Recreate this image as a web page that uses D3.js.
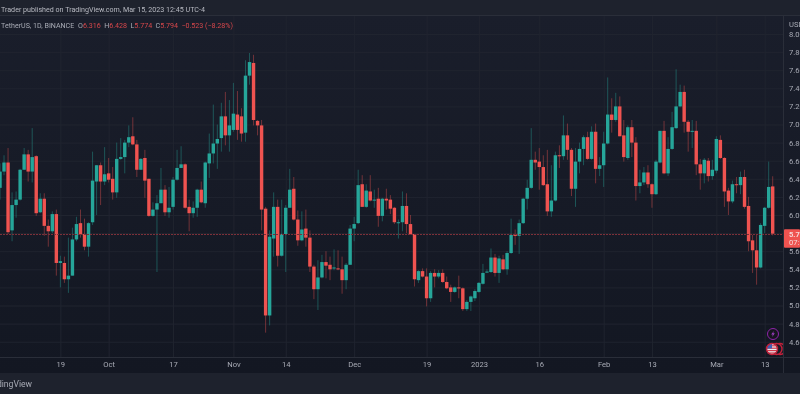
<!DOCTYPE html>
<html>
<head>
<meta charset="utf-8">
<script src="https://cdn.jsdelivr.net/npm/d3@7"></script>
<style>
  html, body { margin: 0; padding: 0; background: #131722; overflow: hidden; }
  svg { display: block; filter: blur(0.4px); }
  text { font-family: Roboto, sans-serif; }
</style>
</head>
<body>
<svg id="drawing_region"></svg>
<script>
// daily candles, first one is 2022-09-04
const first_day = new Date(Date.UTC(2022, 8, 4));

const open_values = [
  6.30,6.48,6.58,5.83,6.11,6.17,6.50,6.67,6.48,6.65,
  6.03,6.18,5.88,5.82,6.01,5.47,5.47,5.29,5.33,5.73,
  5.91,5.79,5.65,5.92,6.37,6.55,6.37,6.46,6.40,6.25,
  6.62,6.64,6.80,6.87,6.78,6.50,6.63,6.40,5.99,6.06,
  6.13,6.28,6.03,6.09,6.39,6.52,6.56,6.09,6.02,6.08,
  6.28,6.13,6.57,6.68,6.79,6.85,7.09,6.88,6.94,7.11,
  7.09,6.91,7.54,7.68,7.04,6.99,6.07,4.89,5.74,6.09,
  5.55,5.79,6.08,6.29,5.95,5.72,5.85,5.75,5.43,5.18,
  5.31,5.48,5.45,5.41,5.41,5.40,5.28,5.45,5.85,5.91,
  6.34,6.09,6.26,6.16,6.18,5.99,6.18,6.17,6.08,5.91,
  5.92,6.10,5.90,5.79,5.28,5.38,5.32,5.08,5.36,5.32,
  5.36,5.26,5.20,5.15,5.20,5.19,4.96,5.04,5.08,5.15,
  5.24,5.365,5.37,5.53,5.36,5.51,5.40,5.58,5.78,5.77,
  5.91,6.18,6.30,6.61,6.59,6.53,6.34,6.04,6.16,6.66,
  6.65,6.88,6.72,6.29,6.59,6.73,6.86,6.62,6.92,6.51,
  6.55,6.79,7.11,7.05,7.20,6.88,6.63,6.97,6.80,6.32,
  6.36,6.47,6.34,6.23,6.58,6.93,6.46,6.73,6.96,7.20,
  7.36,7.03,6.92,6.93,6.56,6.46,6.60,6.43,6.49,6.83,
  6.63,6.27,6.15,6.34,6.33,6.42,6.10,5.72,5.61,5.42,
  5.88,6.08,6.316
];
const high_values = [
  6.57,6.66,6.74,6.25,6.26,6.51,6.74,6.72,6.96,6.66,
  6.24,6.24,5.95,6.04,6.06,5.55,5.54,5.75,5.86,5.98,
  6.06,5.96,5.92,6.70,6.55,6.58,6.75,6.63,6.53,6.80,
  6.85,6.83,6.99,7.08,6.83,6.63,6.72,6.40,6.14,6.22,
  6.52,6.33,6.31,6.42,6.72,6.76,6.57,6.17,6.15,6.29,
  6.37,6.59,6.90,7.22,7.00,7.24,7.36,7.27,7.46,7.37,
  7.18,7.71,7.79,7.77,7.05,7.05,6.09,5.83,6.25,6.17,
  6.17,6.11,6.51,6.42,6.05,6.04,6.06,5.83,5.45,5.50,
  5.56,5.60,5.54,5.62,5.61,5.54,5.47,5.89,5.98,6.50,
  6.44,6.34,6.44,6.28,6.30,6.19,6.29,6.22,6.09,5.95,
  6.26,6.24,6.00,5.79,5.39,5.41,5.41,5.38,5.40,5.39,
  5.40,5.32,5.23,5.21,5.33,5.20,5.06,5.11,5.18,5.26,
  5.46,5.40,5.63,5.57,5.55,5.56,5.60,5.96,5.84,5.95,
  6.19,6.39,6.96,6.70,6.74,6.66,6.72,6.55,6.70,6.77,
  7.10,7.01,6.74,6.74,6.80,6.88,6.92,6.98,7.01,6.64,
  6.92,7.52,7.29,7.35,7.31,7.05,6.99,7.05,6.86,6.50,
  6.53,6.55,6.35,6.61,6.93,7.04,6.86,7.14,7.61,7.44,
  7.43,7.05,7.05,7.04,6.62,6.63,6.63,6.61,6.87,6.88,
  6.64,6.30,6.38,6.42,6.48,6.50,6.20,5.78,5.78,5.91,
  6.09,6.59,6.428
];
const low_values = [
  6.17,6.44,5.79,5.71,5.97,6.16,6.50,6.37,6.36,5.99,
  6.02,5.77,5.65,5.80,5.33,5.20,5.25,5.14,5.33,5.71,
  5.75,5.61,5.54,5.89,6.00,6.11,6.33,6.36,6.17,6.19,
  6.61,6.46,6.75,6.77,6.42,6.50,6.19,5.98,5.98,5.37,
  6.13,5.99,5.97,6.06,6.38,6.52,6.07,5.82,5.97,5.98,
  6.13,6.08,6.41,6.57,6.51,6.70,6.77,6.70,6.92,6.83,
  6.81,6.81,7.44,6.99,6.88,5.83,4.70,4.78,5.54,5.43,
  5.54,5.37,6.08,5.94,5.66,5.71,5.65,5.37,5.07,4.95,
  5.30,5.30,5.28,5.39,5.39,5.13,5.18,5.45,5.71,5.90,
  6.09,6.08,6.15,6.08,5.87,5.93,6.06,6.01,5.90,5.74,
  5.82,5.80,5.78,5.21,5.25,5.31,4.99,5.04,5.20,5.30,
  5.25,5.18,5.04,5.14,5.08,4.94,4.94,4.94,5.05,5.14,
  5.23,5.36,5.36,5.32,5.25,5.39,5.34,5.57,5.67,5.57,
  5.90,6.06,6.29,6.50,6.28,6.32,5.99,5.98,6.15,6.52,
  6.61,6.61,6.21,6.09,6.46,6.55,6.61,6.61,6.35,6.43,
  6.31,6.78,6.91,7.03,6.87,6.59,6.61,6.64,6.16,6.24,
  6.33,6.30,6.08,6.22,6.57,6.45,6.43,6.72,6.95,7.19,
  6.91,6.70,6.74,6.44,6.28,6.35,6.37,6.39,6.46,6.62,
  6.09,6.00,6.13,6.24,6.23,6.07,5.60,5.36,5.23,5.41,
  5.80,6.07,5.774
];
const close_values = [
  6.48,6.58,5.81,6.11,6.17,6.50,6.67,6.48,6.64,6.02,
  6.18,5.88,5.82,6.01,5.47,5.49,5.29,5.33,5.73,5.90,
  5.79,5.65,5.91,6.38,6.55,6.37,6.45,6.39,6.25,6.62,
  6.64,6.80,6.86,6.78,6.50,6.62,6.38,5.99,6.06,6.13,
  6.28,6.03,6.08,6.39,6.52,6.56,6.08,6.02,6.08,6.28,
  6.14,6.58,6.68,6.79,6.84,7.09,6.88,6.99,7.12,6.94,
  6.90,7.54,7.69,7.05,6.99,6.06,4.89,5.76,6.09,5.55,
  5.79,6.08,6.28,5.95,5.72,5.84,5.75,5.43,5.18,5.31,
  5.48,5.44,5.40,5.42,5.40,5.28,5.45,5.85,5.90,6.33,
  6.09,6.27,6.16,6.17,5.99,6.18,6.16,6.07,5.92,5.92,
  6.10,5.90,5.79,5.29,5.38,5.32,5.08,5.36,5.32,5.36,
  5.26,5.19,5.15,5.20,5.19,4.96,5.04,5.10,5.16,5.25,
  5.36,5.375,5.53,5.36,5.52,5.40,5.58,5.78,5.77,5.91,
  6.18,6.30,6.61,6.58,6.53,6.33,6.04,6.16,6.66,6.65,
  6.88,6.72,6.29,6.59,6.73,6.86,6.62,6.92,6.51,6.55,
  6.79,7.11,7.05,7.20,6.87,6.64,6.97,6.80,6.32,6.36,
  6.47,6.34,6.23,6.59,6.93,6.46,6.73,6.97,7.20,7.36,
  7.03,6.92,6.93,6.56,6.46,6.61,6.43,6.50,6.84,6.63,
  6.26,6.15,6.34,6.33,6.42,6.09,5.71,5.61,5.42,5.89,
  6.08,6.31,5.794
];

const price_ticks = [4.6,4.8,5.0,5.2,5.4,5.6,5.8,6.0,6.2,6.4,6.6,6.8,7.0,7.2,7.4,7.6,7.8,8.0];
const time_ticks = [
  new Date(Date.UTC(2022, 8, 19)), new Date(Date.UTC(2022, 9, 1)), new Date(Date.UTC(2022, 9, 17)),
  new Date(Date.UTC(2022, 10, 1)), new Date(Date.UTC(2022, 10, 14)), new Date(Date.UTC(2022, 11, 1)),
  new Date(Date.UTC(2022, 11, 19)), new Date(Date.UTC(2023, 0, 1)), new Date(Date.UTC(2023, 0, 16)),
  new Date(Date.UTC(2023, 1, 1)), new Date(Date.UTC(2023, 1, 13)), new Date(Date.UTC(2023, 2, 1)),
  new Date(Date.UTC(2023, 2, 13))
];
const time_labels = ['19','Oct','17','Nov','14','Dec','19','2023','16','Feb','13','Mar','13'];

const header_text = 'Trader published on TradingView.com, Mar 15, 2023 12:45 UTC-4';
const legend_title = 'TetherUS, 1D, BINANCE';
const legend_labels = ['O','H','L','C'];
const legend_values = ['6.316','6.428','5.774','5.794'];
const legend_change = '\u22120.523 (\u22128.28%)';
const last_price = 5.794;
const last_labels = ['5.794','07:15:00'];

class CandleChart {

  constructor( config, data ) {
    this.config = config;
    this.data = data;
    this.init();
  }

  init() {
    let self = this;

    self.svg = d3.select( self.config.parent )
      .attr('width', self.config.width)
      .attr('height', self.config.height);

    self.plot_width = self.config.width - self.config.margin.right;
    self.plot_bottom = self.config.height - self.config.margin.bottom;

    self.x_scale = d3.scaleUtc()
      .domain( [self.data[0].date, self.data[self.data.length - 1].date] )
      .range( [0, 772.7] );

    self.y_scale = d3.scaleLinear()
      .domain( [4.431, 8.21] )
      .range( [self.plot_bottom, self.config.margin.top] );
  }

  render() {
    let self = this;
    let top = self.config.margin.top;

    let defs = self.svg.append('defs');

    let gradient = defs.append('linearGradient')
      .attr('id', 'bg_gradient')
      .attr('x1', 0).attr('x2', 0).attr('y1', 0).attr('y2', 1);
    gradient.append('stop').attr('offset', '0%').attr('stop-color', '#1a1e2b');
    gradient.append('stop').attr('offset', '100%').attr('stop-color', '#131722');

    defs.append('clipPath').attr('id', 'plot_clip')
      .append('rect')
      .attr('x', 0).attr('y', top)
      .attr('width', self.plot_width)
      .attr('height', self.plot_bottom - top);

    defs.append('clipPath').attr('id', 'flag_clip')
      .append('circle').attr('r', 5);

    // backgrounds
    self.svg.append('rect')
      .attr('width', self.config.width).attr('height', self.config.height)
      .attr('fill', '#131722');
    self.svg.append('rect')
      .attr('y', top).attr('width', self.config.width).attr('height', 373 - top)
      .attr('fill', 'url(#bg_gradient)');
    self.svg.append('rect')
      .attr('width', self.config.width).attr('height', top)
      .attr('fill', '#1e222d');
    self.svg.append('rect')
      .attr('y', 373).attr('width', self.config.width).attr('height', self.config.height - 373)
      .attr('fill', '#1e222d');

    self.render_grid();
    self.render_candles();
    self.render_axes();
    self.render_last_price();
    self.render_text();
    self.render_events();
  }

  render_grid() {
    let self = this;
    let grid_color = '#20242f';

    let y_grid = self.svg.append('g')
      .call( d3.axisRight( self.y_scale )
        .tickValues( price_ticks ).tickSize( self.plot_width ).tickFormat('') );
    let x_grid = self.svg.append('g')
      .attr('transform', `translate(0, ${self.plot_bottom})`)
      .call( d3.axisTop( self.x_scale )
        .tickValues( time_ticks ).tickSize( self.plot_bottom - self.config.margin.top ).tickFormat('') );

    [y_grid, x_grid].forEach( g => {
      g.select('.domain').remove();
      g.selectAll('line').attr('stroke', grid_color).attr('stroke-width', 1);
    });
  }

  render_candles() {
    let self = this;
    let up_color = '#26a69a';
    let down_color = '#ef5350';

    let chart = self.svg.append('g').attr('clip-path', 'url(#plot_clip)');
    let candles = chart.selectAll('g')
      .data( self.data )
      .enter()
      .append('g')
      .attr('fill', d => d.close >= d.open ? up_color : down_color)
      .attr('stroke', d => d.close >= d.open ? up_color : down_color);

    candles.append('line')
      .attr('x1', d => self.x_scale( d.date ))
      .attr('x2', d => self.x_scale( d.date ))
      .attr('y1', d => self.y_scale( d.high ))
      .attr('y2', d => self.y_scale( d.low ))
      .attr('stroke-width', 1)
      .attr('stroke-opacity', 0.42);

    candles.append('rect')
      .attr('x', d => self.x_scale( d.date ) - 1.7)
      .attr('width', 3.4)
      .attr('y', d => self.y_scale( Math.max( d.open, d.close ) ))
      .attr('height', d => Math.max( 1, Math.abs( self.y_scale( d.open ) - self.y_scale( d.close ) ) ))
      .attr('stroke', 'none');
  }

  render_axes() {
    let self = this;
    let text_color = '#a8abb5';
    let border_color = '#2a2e39';

    let y_axis = self.svg.append('g')
      .attr('transform', `translate(${self.plot_width}, 0)`)
      .call( d3.axisRight( self.y_scale )
        .tickValues( price_ticks ).tickSize(0).tickPadding(6).tickFormat( d3.format('.3f') ) );
    let x_axis = self.svg.append('g')
      .attr('transform', `translate(0, ${self.plot_bottom})`)
      .call( d3.axisBottom( self.x_scale )
        .tickValues( time_ticks ).tickSize(0).tickPadding(4.6)
        .tickFormat( (d, i) => time_labels[i] ) );

    [y_axis, x_axis].forEach( g => {
      g.select('.domain').remove();
      g.selectAll('text')
        .attr('fill', text_color)
        .attr('font-size', 7.6)
        .style('font-family', 'Roboto, sans-serif');
    });

    self.svg.append('line')
      .attr('x1', 0).attr('x2', self.config.width)
      .attr('y1', self.plot_bottom + 0.5).attr('y2', self.plot_bottom + 0.5)
      .attr('stroke', border_color);
    self.svg.append('line')
      .attr('x1', self.plot_width + 0.5).attr('x2', self.plot_width + 0.5)
      .attr('y1', self.config.margin.top).attr('y2', 373)
      .attr('stroke', border_color);
    self.svg.append('line')
      .attr('x1', 0).attr('x2', self.config.width)
      .attr('y1', self.config.margin.top + 0.5).attr('y2', self.config.margin.top + 0.5)
      .attr('stroke', border_color);
  }

  render_last_price() {
    let self = this;
    let y = self.y_scale( last_price );
    let line_y = Math.round( y ) + 0.5;

    self.svg.append('line')
      .attr('x1', 0).attr('x2', self.plot_width)
      .attr('y1', line_y).attr('y2', line_y)
      .attr('stroke', '#7d3039')
      .attr('stroke-dasharray', '2 1');

    self.svg.append('rect')
      .attr('x', self.plot_width + 1).attr('y', y - 4.3)
      .attr('width', 16).attr('height', 18.4)
      .attr('rx', 1)
      .attr('fill', '#ef5350');

    self.svg.selectAll('.last_label')
      .data( last_labels )
      .enter()
      .append('text')
      .attr('class', 'last_label')
      .attr('x', self.plot_width + 6)
      .attr('y', (d, i) => y + 3 + i * 8.6)
      .attr('font-size', 7.6)
      .attr('font-weight', (d, i) => i == 0 ? 700 : 400)
      .attr('fill', '#f7d9d8')
      .text( d => d );
  }

  render_text() {
    let self = this;
    let label_color = '#a8abb5';
    let value_color = '#d8474b';

    self.svg.append('text')
      .attr('x', 1).attr('y', 12)
      .attr('font-size', 7.12)
      .attr('fill', '#b8bac2')
      .text( header_text );

    let legend = self.svg.append('text')
      .attr('x', 1).attr('y', 28)
      .attr('font-size', 7.1)
      .attr('fill', label_color);
    legend.append('tspan').text( legend_title );
    legend_labels.forEach( (label, i) => {
      legend.append('tspan').attr('dx', i == 0 ? 3.8 : 3.4).text( label );
      legend.append('tspan').attr('fill', value_color).text( legend_values[i] );
    });
    legend.append('tspan').attr('dx', 3.4).attr('fill', value_color).text( legend_change );

    self.svg.append('text')
      .attr('x', self.plot_width + 6).attr('y', 26.5)
      .attr('font-size', 7.6)
      .attr('fill', label_color)
      .text('USDT');

    self.svg.append('text')
      .attr('x', 32).attr('y', 387)
      .attr('text-anchor', 'end')
      .attr('font-size', 8.6)
      .attr('fill', '#a8abb5')
      .text('TradingView');
  }

  render_events() {
    let self = this;

    // lightning marker
    let bolt = self.svg.append('g').attr('transform', 'translate(773, 334)');
    bolt.append('circle')
      .attr('r', 5.5)
      .attr('fill', '#16151f')
      .attr('stroke', '#8e24aa')
      .attr('stroke-width', 1);
    bolt.append('path')
      .attr('d', 'M0.8 -3 L-1.8 0.6 L-0.2 0.6 L-0.8 3 L1.8 -0.8 L0.2 -0.8 Z')
      .attr('fill', '#9c3fc0');

    // stacked US calendar events, cut off by the price axis
    let events = self.svg.append('g').attr('clip-path', 'url(#plot_clip)');
    events.selectAll('.ring')
      .data( [780, 776.5] )
      .enter()
      .append('circle')
      .attr('class', 'ring')
      .attr('cx', d => d).attr('cy', 349).attr('r', 5.5)
      .attr('fill', '#1a1a26')
      .attr('stroke', '#c2203a')
      .attr('stroke-width', 1.4);

    let flag = events.append('g')
      .attr('transform', 'translate(772, 349)')
      .attr('clip-path', 'url(#flag_clip)');
    flag.append('rect').attr('x', -5).attr('y', -5).attr('width', 10).attr('height', 10).attr('fill', '#e8e8ee');
    [-3.2, -0.8, 1.6, 4].forEach( d => {
      flag.append('rect').attr('x', -5).attr('y', d - 0.6).attr('width', 10).attr('height', 1.2).attr('fill', '#d23a4c');
    });
    flag.append('rect').attr('x', -5).attr('y', -5).attr('width', 5).attr('height', 4.5).attr('fill', '#3b5fb5');
    events.append('circle')
      .attr('cx', 772).attr('cy', 349).attr('r', 5.5)
      .attr('fill', 'none')
      .attr('stroke', '#c2203a')
      .attr('stroke-width', 1.4);
  }
}

const data = open_values.map( (d, i) => ({
  date: d3.utcDay.offset( first_day, i ),
  open: d,
  high: high_values[i],
  low: low_values[i],
  close: close_values[i]
}));

let config = {
  parent: '#drawing_region',
  width: 800,
  height: 394,
  margin: {top:15, right:17, bottom:37, left:0},
};

const candle_chart = new CandleChart( config, data );
candle_chart.render();
</script>
</body>
</html>
